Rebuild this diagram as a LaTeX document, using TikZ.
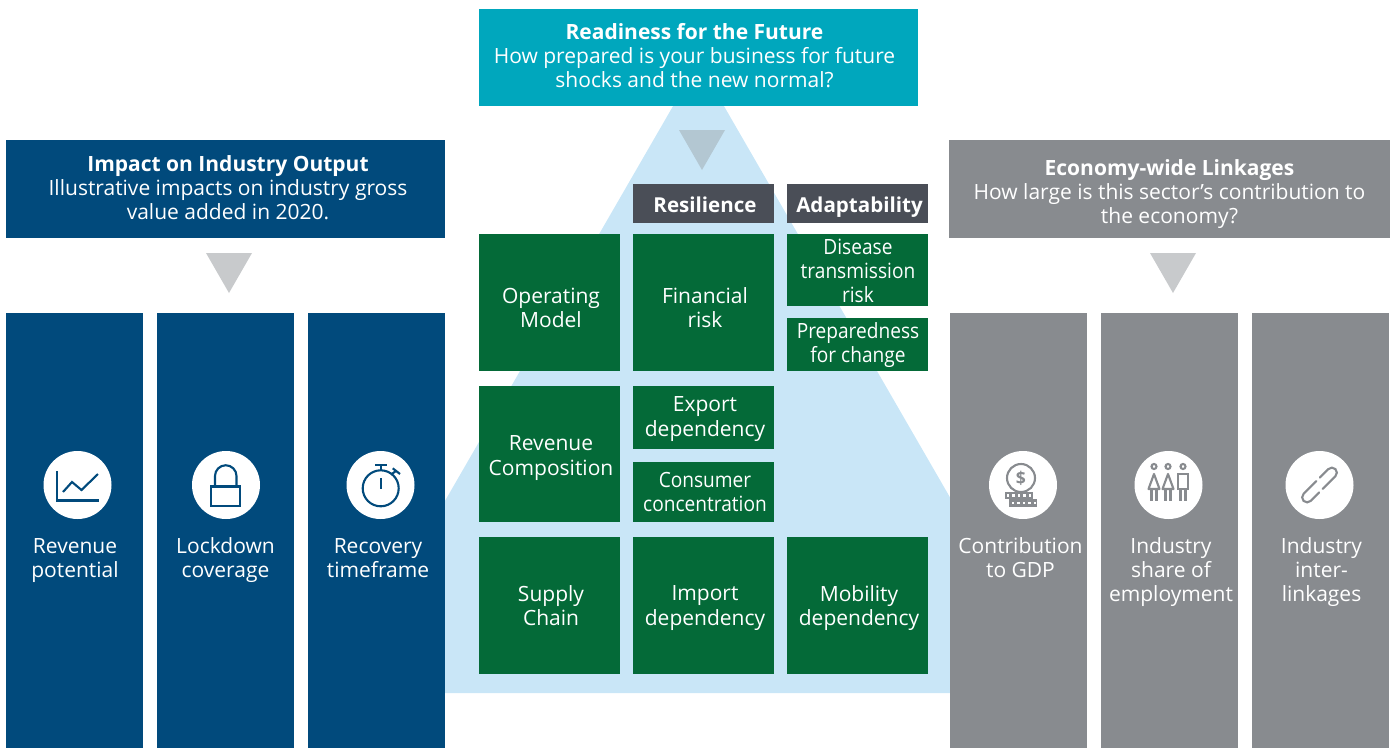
\documentclass[tikz,border=0pt]{standalone}
\usepackage{fontspec}
\setmainfont{Open Sans}
\newfontfamily\narrowfont[FakeStretch=0.91]{Open Sans}
\definecolor{navy}{HTML}{014A7C}
\definecolor{teal}{HTML}{00A7BD}
\definecolor{steel}{HTML}{888B8F}
\definecolor{slate}{HTML}{4A4E57}
\definecolor{leaf}{HTML}{046A38}
\definecolor{sky}{HTML}{C9E6F7}
\definecolor{mist}{HTML}{B3C7D2}
\definecolor{ash}{HTML}{C8CACC}
\tikzset{
	txt/.style={font=\fontsize{11.95}{13.7}\selectfont, align=center, inner sep=0pt, text=white},
	tight/.style={font=\narrowfont\fontsize{11.95}{13.7}\selectfont},
	head/.style={font=\fontsize{11.7}{13.7}\selectfont\bfseries, text=white, inner sep=0pt, anchor=base},
	disc/.style={fill=white, draw=none},
	ico/.style={draw=navy, line width=1.2pt, fill=none},
	icog/.style={draw=steel, line width=1.2pt, fill=none}
}
\begin{document}
\begin{tikzpicture}[x=0.02cm,y=-0.02cm]
	\useasboundingbox (0, 0) rectangle (1397, 748);
	
	%%%%% centre pyramid %%%%%
	\fill[sky] (698.5, 62) -- (1063, 693) -- (334, 693) -- cycle;
	
	%%%%% top banner %%%%%
	\fill[teal] (479, 9) rectangle (918, 106);
	\node[txt] (future) at (694.5, 55.5) {{\bfseries Readiness for the Future}\\How prepared is your business for future\\shocks and the new normal?};
	\fill[mist] (679, 130) -- (725, 130) -- (702, 170) -- cycle;
	
	%%%%% left column %%%%%
	\fill[navy] (6, 140) rectangle (445, 238);
	\node[txt] (impact) at (228, 188) {{\bfseries Impact on Industry Output}\\Illustrative impacts on industry gross\\value added in 2020.};
	\fill[ash] (206, 253) -- (252, 253) -- (229, 293) -- cycle;
	\fill[navy] (6, 313) rectangle (143, 748);
	\fill[navy] (157, 313) rectangle (294, 748);
	\fill[navy] (308, 313) rectangle (445, 748);
	\fill[disc] (77.5, 485) circle (34);
	\fill[disc] (226, 485) circle (34);
	\fill[disc] (380.5, 485) circle (34);
	\node[txt, anchor=north] (revenue) at (75, 538) {Revenue\\potential};
	\node[txt, anchor=north] (lockdown) at (225.5, 537) {Lockdown\\coverage};
	\node[txt, anchor=north] (recovery) at (378, 538) {Recovery\\timeframe};
	
	% chart icon
	\draw[ico] (57, 471) -- (57, 500.5) -- (98.5, 500.5);
	\draw[ico] (63, 492) -- (72, 482) -- (81.5, 490) -- (98, 474);
	% lock icon
	\draw[ico] (211, 486.5) rectangle (240, 506);
	\draw[ico] (215, 486.5) -- (215, 476) arc (180:360:10.75) -- (236.5, 486.5);
	% stopwatch icon
	\draw[ico] (380.7, 488.3) circle (18);
	\draw[ico] (380.7, 470) -- (380.7, 465);
	\draw[ico] (375, 465) -- (387, 465);
	\draw[ico] (380.7, 478) -- (380.7, 489);
	\draw[ico] (391, 474.5) -- (396, 471);
	\draw[ico] (392.7, 468.3) -- (400, 474);
	
	%%%%% right column %%%%%
	\fill[steel] (949, 140) rectangle (1390, 238);
	\node[txt] (linkages) at (1169.5, 194) {{\bfseries Economy-wide Linkages}\\How large is this sector’s contribution to\\the economy?};
	\fill[ash] (1150, 253) -- (1196, 253) -- (1173, 293) -- cycle;
	\fill[steel] (950, 313) rectangle (1087, 748);
	\fill[steel] (1101, 313) rectangle (1238, 748);
	\fill[steel] (1252, 313) rectangle (1389, 748);
	\fill[disc] (1023, 485) circle (34);
	\fill[disc] (1168.5, 485) circle (34);
	\fill[disc] (1319.5, 485) circle (34);
	\node[txt, anchor=north] (gdp) at (1020.5, 537) {Contribution\\to GDP};
	\node[txt, anchor=north] (share) at (1171, 537) {Industry\\share of\\employment};
	\node[txt, anchor=north] (inter) at (1321.5, 537) {Industry\\inter-\\linkages};
	
	% coin icon
	\draw[icog] (1021, 478) circle (14);
	\node[font=\fontsize{10}{10}\selectfont\bfseries, text=steel, inner sep=0pt] (dollar) at (1021, 478) {\$};
	\fill[steel] (1005, 491.5) rectangle (1033, 499);
	\fill[steel] (1009, 499) rectangle (1037, 507);
	\foreach \dx in {1008, 1013.5, 1019, 1024.5, 1030} {
		\fill[white] (\dx-1.2, 494) rectangle (\dx+1.2, 496.5);
		\fill[white] (\dx+3.8, 501.5) rectangle (\dx+6.2, 504);
	}
	% people icon
	\foreach \px in {1154, 1168, 1183} {
		\draw[icog] (\px, 466.5) circle (2.5);
	}
	\foreach \px in {1154, 1168} {
		\draw[icog, line join=round] (\px, 474) -- (\px+5.5, 489) -- (\px-5.5, 489) -- cycle;
		\draw[icog] (\px-2.5, 489) -- (\px-2.5, 501);
		\draw[icog] (\px+2.5, 489) -- (\px+2.5, 501);
	}
	\draw[icog] (1178, 474) rectangle (1188, 489);
	\draw[icog] (1180.5, 489) -- (1180.5, 501);
	\draw[icog] (1185.5, 489) -- (1185.5, 501);
	% link icon
	\begin{scope}[rotate around={45:(1319.5, 485)}]
		\draw[icog, line cap=round] (1320, 480) -- (1302, 480) arc (270:90:5) -- (1314, 490);
		\draw[icog, line cap=round] (1319, 490) -- (1337, 490) arc (90:-90:5) -- (1325, 480);
	\end{scope}
	
	%%%%% headers %%%%%
	\fill[slate] (633, 184) rectangle (774, 223);
	\fill[slate] (787, 184) rectangle (928, 223);
	\node[head] (resilience) at (705, 212) {Resilience};
	\node[head] (adaptability) at (859.5, 212) {Adaptability};
	
	%%%%% green grid %%%%%
	\fill[leaf] (479, 234) rectangle (620, 371);
	\fill[leaf] (633, 234) rectangle (774, 371);
	\fill[leaf] (787, 234) rectangle (928, 306);
	\fill[leaf] (787, 318) rectangle (928, 371);
	\fill[leaf] (479, 386) rectangle (620, 522);
	\fill[leaf] (633, 386) rectangle (774, 449);
	\fill[leaf] (633, 462) rectangle (774, 522);
	\fill[leaf] (479, 537) rectangle (620, 674);
	\fill[leaf] (633, 537) rectangle (774, 674);
	\fill[leaf] (787, 537) rectangle (928, 674);
	\node[txt] (operating) at (551, 308) {Operating\\Model};
	\node[txt] (financial) at (705, 308) {Financial\\risk};
	\node[txt, tight] (disease) at (858, 271) {Disease\\transmission\\risk};
	\node[txt, tight] (prepared) at (858, 345) {Preparedness\\for change};
	\node[txt] (composition) at (551, 458) {Revenue\\Composition};
	\node[txt] (export) at (705, 419) {Export\\dependency};
	\node[txt, tight] (consumer) at (705, 492) {Consumer\\concentration};
	\node[txt] (supply) at (551, 606) {Supply\\Chain};
	\node[txt] (import) at (705, 608) {Import\\dependency};
	\node[txt] (mobility) at (859, 608) {Mobility\\dependency};
\end{tikzpicture}
\end{document}
